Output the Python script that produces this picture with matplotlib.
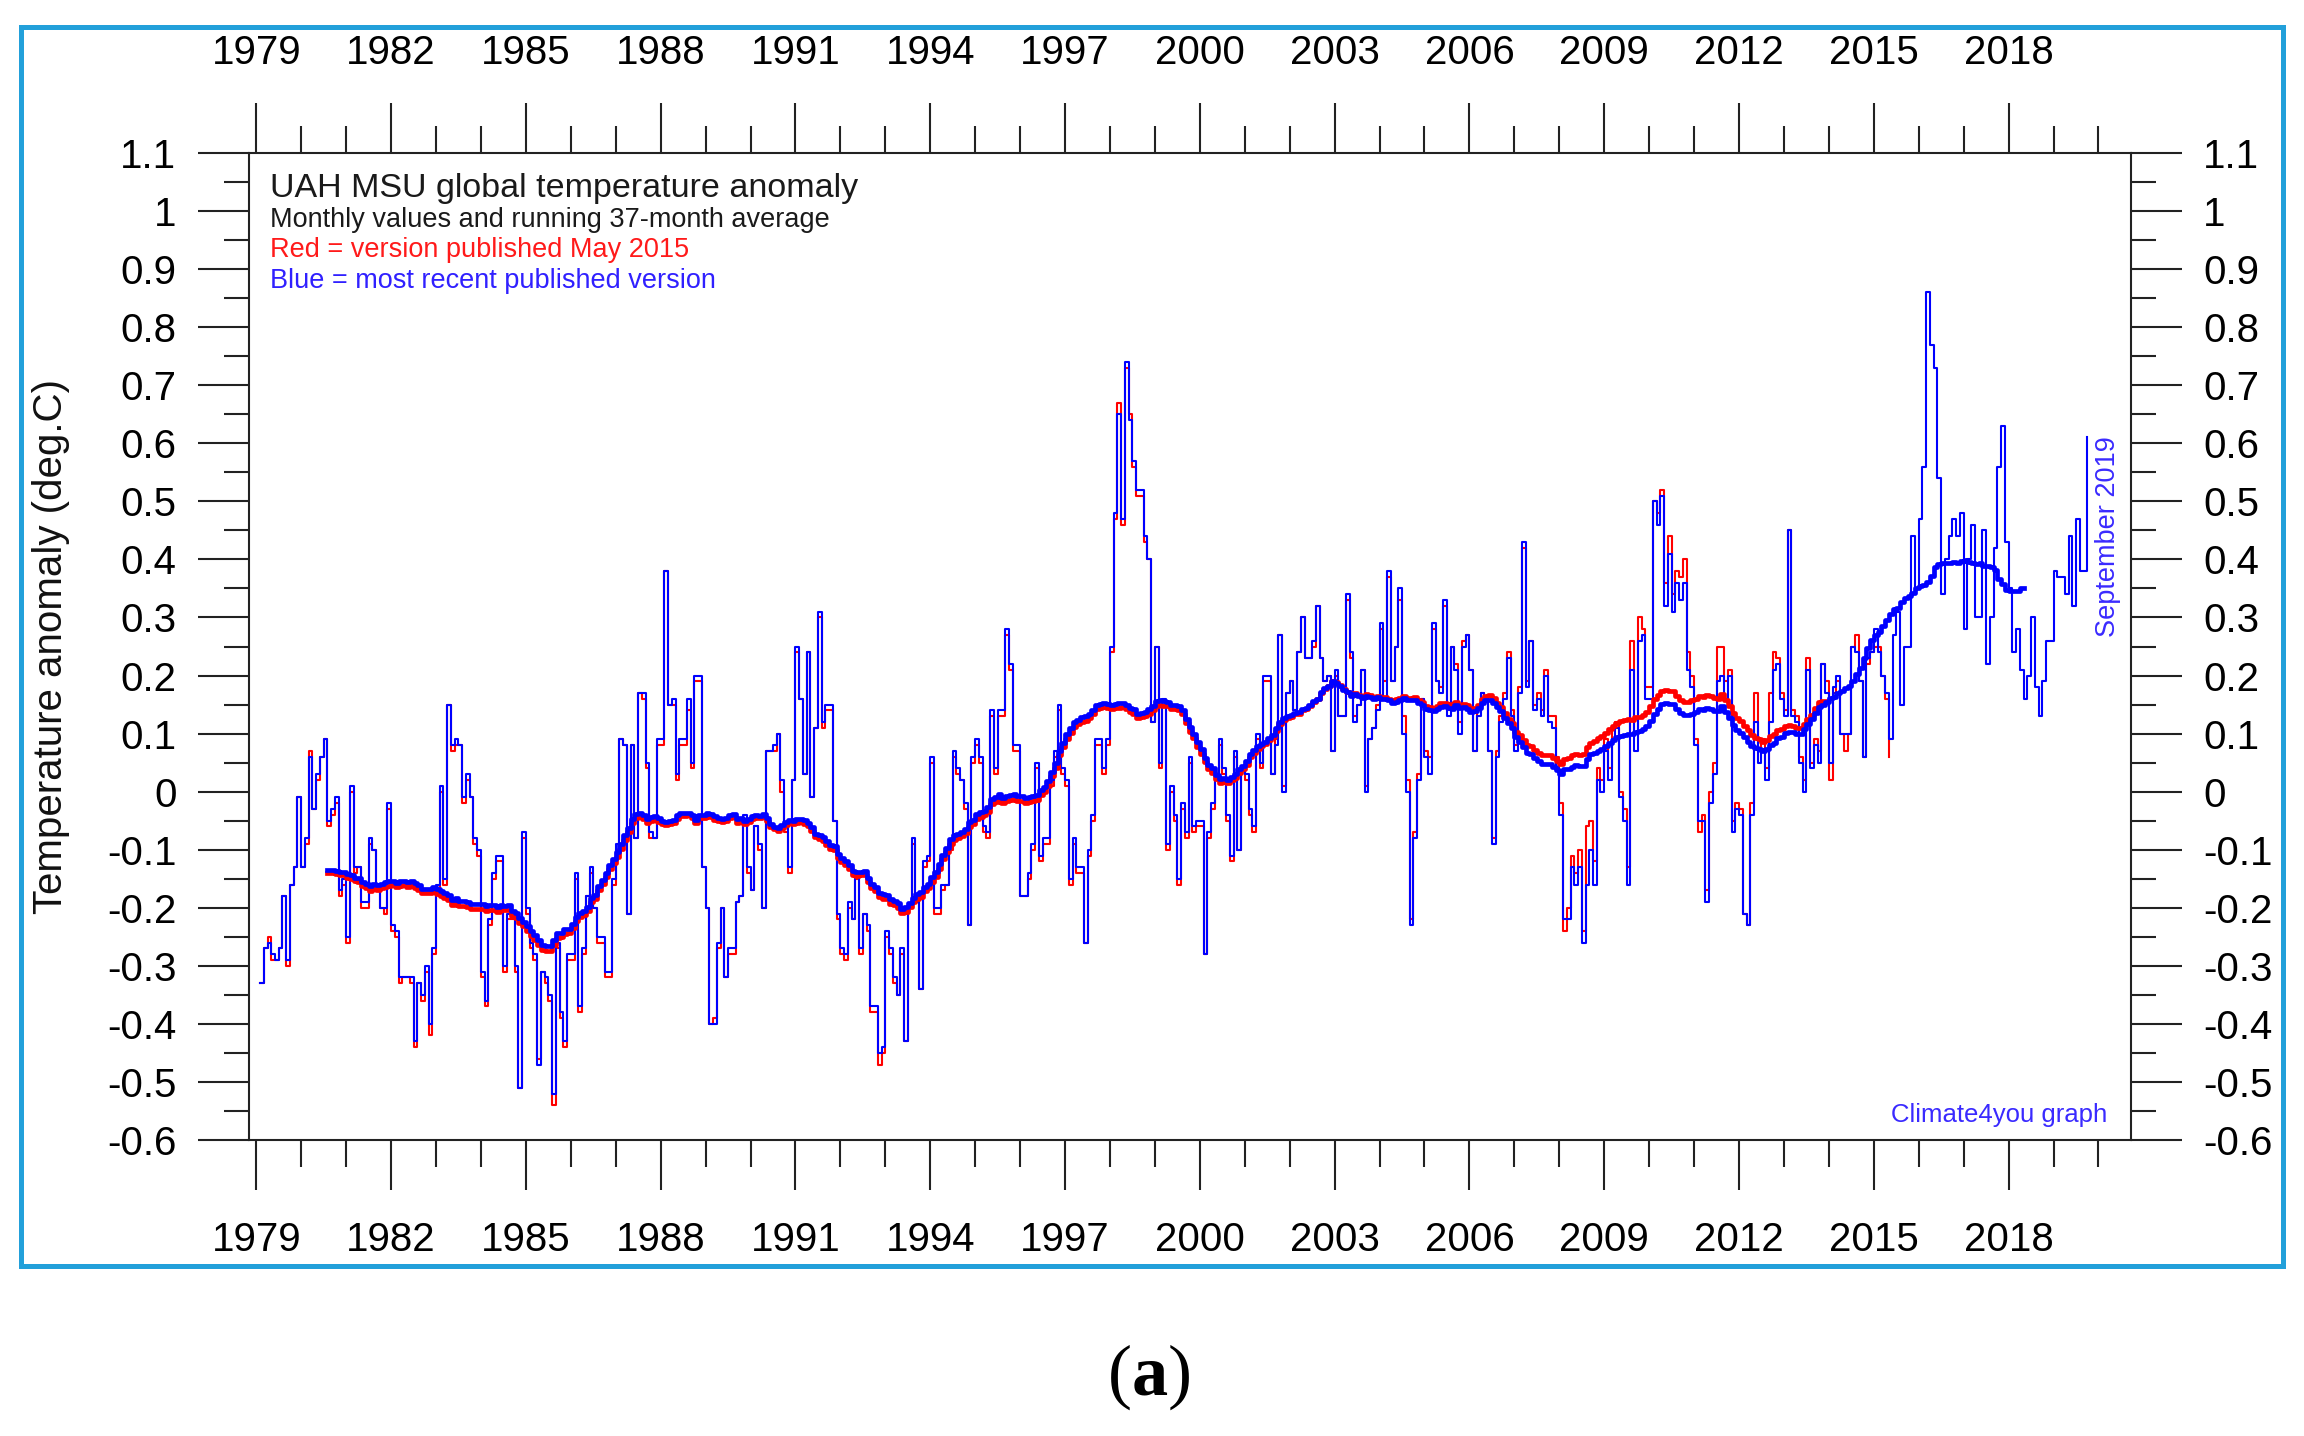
import numpy as np
import pandas as pd
import matplotlib
matplotlib.use('Agg')
import matplotlib.pyplot as plt
from matplotlib.ticker import FixedLocator, FixedFormatter
from matplotlib.patches import Rectangle

plt.rcParams['font.family'] = ['Liberation Sans', 'DejaVu Sans']
plt.rcParams['mathtext.fontset'] = 'custom'
plt.rcParams['mathtext.rm'] = 'Liberation Serif'
plt.rcParams['mathtext.bf'] = 'Liberation Serif:bold'

# monthly anomalies, most recent version, Jan 1979 - Sep 2019
blue_monthly = [
    -0.33, -0.27, -0.26, -0.28, -0.29, -0.27, -0.18, -0.29, -0.16, -0.13, -0.01, -0.13,  # 1979
    -0.08, 0.06, -0.03, 0.03, 0.06, 0.09, -0.05, -0.03, -0.01, -0.17, -0.15, -0.25,  # 1980
    0.01, -0.13, -0.13, -0.19, -0.19, -0.08, -0.10, -0.16, -0.20, -0.20, -0.02, -0.23,  # 1981
    -0.24, -0.32, -0.32, -0.32, -0.32, -0.43, -0.33, -0.35, -0.30, -0.40, -0.27, -0.16,  # 1982
    0.01, -0.15, 0.15, 0.08, 0.09, 0.08, -0.01, 0.03, -0.01, -0.08, -0.10, -0.31,  # 1983
    -0.36, -0.22, -0.14, -0.11, -0.11, -0.30, -0.21, -0.21, -0.30, -0.51, -0.07, -0.20,  # 1984
    -0.26, -0.28, -0.47, -0.31, -0.32, -0.35, -0.52, -0.26, -0.38, -0.43, -0.28, -0.28,  # 1985
    -0.14, -0.37, -0.27, -0.18, -0.13, -0.20, -0.25, -0.25, -0.31, -0.31, -0.15, -0.09,  # 1986
    0.09, 0.08, -0.21, 0.08, -0.08, 0.17, 0.17, 0.05, -0.07, -0.08, 0.09, 0.09,  # 1987
    0.38, 0.15, 0.16, 0.03, 0.09, 0.09, 0.16, 0.05, 0.20, 0.20, -0.13, -0.20,  # 1988
    -0.40, -0.40, -0.26, -0.20, -0.32, -0.27, -0.27, -0.19, -0.18, -0.04, -0.13, -0.17,  # 1989
    -0.06, -0.09, -0.20, 0.07, 0.07, 0.08, 0.10, 0.02, -0.06, -0.13, 0.02, 0.25,  # 1990
    0.16, 0.03, 0.24, -0.01, 0.11, 0.31, 0.12, 0.15, 0.15, -0.05, -0.21, -0.27,  # 1991
    -0.28, -0.19, -0.22, -0.14, -0.27, -0.21, -0.23, -0.37, -0.37, -0.45, -0.44, -0.24,  # 1992
    -0.27, -0.32, -0.35, -0.27, -0.43, -0.20, -0.08, -0.19, -0.34, -0.12, -0.11, 0.06,  # 1993
    -0.20, -0.20, -0.16, -0.16, -0.09, 0.07, 0.04, 0.02, -0.02, -0.23, 0.06, 0.09,  # 1994
    0.06, -0.06, -0.07, 0.14, 0.04, 0.14, 0.14, 0.28, 0.22, 0.08, 0.08, -0.18,  # 1995
    -0.18, -0.14, -0.09, 0.05, -0.11, -0.08, -0.08, 0.02, 0.07, 0.15, 0.04, 0.02,  # 1996
    -0.15, -0.08, -0.13, -0.13, -0.26, -0.10, -0.04, 0.09, 0.09, 0.04, 0.09, 0.25,  # 1997
    0.48, 0.65, 0.47, 0.74, 0.64, 0.57, 0.52, 0.52, 0.44, 0.40, 0.12, 0.25,  # 1998
    0.05, 0.16, -0.09, 0.01, -0.04, -0.15, -0.02, -0.07, 0.06, -0.06, -0.05, -0.05,  # 1999
    -0.28, -0.07, -0.02, 0.03, 0.09, 0.04, -0.04, -0.11, 0.07, -0.10, 0.04, 0.03,  # 2000
    -0.03, -0.06, 0.10, 0.05, 0.20, 0.20, 0.03, 0.08, 0.27, 0.00, 0.17, 0.19,  # 2001
    0.14, 0.24, 0.30, 0.23, 0.23, 0.26, 0.32, 0.23, 0.19, 0.20, 0.07, 0.21,  # 2002
    0.13, 0.13, 0.34, 0.24, 0.12, 0.15, 0.21, 0.00, 0.09, 0.11, 0.14, 0.29,  # 2003
    0.16, 0.38, 0.19, 0.25, 0.35, 0.10, 0.00, -0.23, -0.08, 0.02, 0.16, 0.06,  # 2004
    0.03, 0.29, 0.19, 0.17, 0.33, 0.13, 0.25, 0.21, 0.10, 0.25, 0.27, 0.21,  # 2005
    0.07, 0.13, 0.17, 0.16, 0.07, -0.09, 0.06, 0.12, 0.16, 0.23, 0.13, 0.07,  # 2006
    0.17, 0.43, 0.18, 0.26, 0.14, 0.16, 0.13, 0.20, 0.12, 0.11, 0.04, -0.04,  # 2007
    -0.22, -0.22, -0.13, -0.16, -0.13, -0.26, -0.16, -0.10, -0.16, 0.02, 0.00, 0.07,  # 2008
    0.02, 0.09, 0.11, -0.01, -0.05, -0.16, 0.21, 0.07, 0.26, 0.27, 0.16, 0.16,  # 2009
    0.50, 0.46, 0.51, 0.32, 0.41, 0.31, 0.36, 0.33, 0.36, 0.21, 0.18, 0.08,  # 2010
    -0.05, -0.05, -0.19, -0.02, 0.03, 0.19, 0.20, 0.16, 0.20, -0.07, -0.03, -0.04,  # 2011
    -0.21, -0.23, -0.04, 0.12, 0.05, 0.07, 0.02, 0.12, 0.21, 0.22, 0.16, 0.13,  # 2012
    0.45, 0.13, 0.12, 0.05, 0.00, 0.21, 0.04, 0.08, 0.05, 0.22, 0.17, 0.05,  # 2013
    0.18, 0.20, 0.10, 0.10, 0.10, 0.25, 0.24, 0.19, 0.06, 0.23, 0.24, 0.28,  # 2014
    0.24, 0.20, 0.17, 0.09, 0.27, 0.31, 0.15, 0.25, 0.25, 0.44, 0.35, 0.47,  # 2015
    0.56, 0.86, 0.77, 0.73, 0.54, 0.34, 0.40, 0.44, 0.47, 0.44, 0.48, 0.28,  # 2016
    0.40, 0.46, 0.30, 0.30, 0.45, 0.22, 0.30, 0.42, 0.56, 0.63, 0.43, 0.35,  # 2017
    0.24, 0.28, 0.21, 0.16, 0.20, 0.30, 0.18, 0.13, 0.19, 0.26, 0.26, 0.38,  # 2018
    0.37, 0.37, 0.34, 0.44, 0.32, 0.47, 0.38, 0.38, 0.61,  # 2019
]

# monthly anomalies, version published May 2015, Jan 1979 - Apr 2015
red_monthly = [
    -0.33, -0.27, -0.25, -0.29, -0.29, -0.27, -0.18, -0.30, -0.16, -0.13, -0.01, -0.13,  # 1979
    -0.09, 0.07, -0.03, 0.02, 0.06, 0.09, -0.06, -0.04, -0.02, -0.18, -0.16, -0.26,  # 1980
    0.00, -0.14, -0.13, -0.20, -0.20, -0.09, -0.10, -0.17, -0.20, -0.21, -0.03, -0.24,  # 1981
    -0.25, -0.33, -0.32, -0.32, -0.33, -0.44, -0.33, -0.36, -0.31, -0.42, -0.28, -0.17,  # 1982
    0.00, -0.16, 0.15, 0.07, 0.08, 0.08, -0.02, 0.02, -0.01, -0.09, -0.11, -0.32,  # 1983
    -0.37, -0.23, -0.15, -0.12, -0.12, -0.31, -0.22, -0.22, -0.31, -0.51, -0.08, -0.21,  # 1984
    -0.27, -0.29, -0.46, -0.31, -0.33, -0.36, -0.54, -0.27, -0.39, -0.44, -0.29, -0.29,  # 1985
    -0.15, -0.38, -0.28, -0.18, -0.14, -0.20, -0.26, -0.26, -0.32, -0.32, -0.16, -0.10,  # 1986
    0.09, 0.08, -0.21, 0.08, -0.08, 0.17, 0.16, 0.04, -0.08, -0.08, 0.08, 0.08,  # 1987
    0.38, 0.15, 0.15, 0.02, 0.08, 0.08, 0.14, 0.04, 0.19, 0.19, -0.13, -0.20,  # 1988
    -0.40, -0.39, -0.27, -0.20, -0.32, -0.28, -0.28, -0.19, -0.18, -0.05, -0.14, -0.17,  # 1989
    -0.06, -0.10, -0.20, 0.07, 0.07, 0.07, 0.10, 0.00, -0.07, -0.14, 0.02, 0.24,  # 1990
    0.16, 0.03, 0.24, -0.01, 0.11, 0.30, 0.11, 0.14, 0.14, -0.05, -0.22, -0.28,  # 1991
    -0.29, -0.20, -0.22, -0.15, -0.28, -0.21, -0.24, -0.38, -0.38, -0.47, -0.45, -0.25,  # 1992
    -0.28, -0.33, -0.35, -0.28, -0.43, -0.20, -0.09, -0.19, -0.34, -0.13, -0.12, 0.05,  # 1993
    -0.21, -0.21, -0.17, -0.16, -0.10, 0.06, 0.03, 0.02, -0.03, -0.23, 0.05, 0.08,  # 1994
    0.05, -0.07, -0.08, 0.13, 0.03, 0.13, 0.13, 0.27, 0.21, 0.07, 0.07, -0.18,  # 1995
    -0.18, -0.15, -0.10, 0.04, -0.12, -0.09, -0.09, 0.01, 0.06, 0.14, 0.03, 0.01,  # 1996
    -0.16, -0.09, -0.14, -0.14, -0.26, -0.11, -0.05, 0.08, 0.08, 0.03, 0.08, 0.24,  # 1997
    0.47, 0.67, 0.46, 0.73, 0.65, 0.56, 0.51, 0.51, 0.43, 0.40, 0.12, 0.25,  # 1998
    0.04, 0.15, -0.10, 0.00, -0.05, -0.16, -0.03, -0.08, 0.05, -0.07, -0.06, -0.06,  # 1999
    -0.28, -0.08, -0.03, 0.02, 0.08, 0.03, -0.05, -0.12, 0.06, -0.10, 0.04, 0.02,  # 2000
    -0.04, -0.07, 0.09, 0.04, 0.19, 0.19, 0.03, 0.09, 0.27, 0.01, 0.17, 0.19,  # 2001
    0.14, 0.24, 0.30, 0.23, 0.23, 0.25, 0.32, 0.23, 0.19, 0.20, 0.07, 0.20,  # 2002
    0.13, 0.13, 0.33, 0.23, 0.13, 0.15, 0.21, 0.01, 0.09, 0.11, 0.15, 0.28,  # 2003
    0.19, 0.37, 0.19, 0.25, 0.33, 0.13, 0.02, -0.22, -0.07, 0.03, 0.16, 0.07,  # 2004
    0.06, 0.28, 0.19, 0.18, 0.32, 0.14, 0.25, 0.22, 0.12, 0.26, 0.27, 0.21,  # 2005
    0.07, 0.14, 0.17, 0.16, 0.07, -0.08, 0.07, 0.13, 0.17, 0.24, 0.14, 0.08,  # 2006
    0.18, 0.42, 0.19, 0.26, 0.15, 0.17, 0.14, 0.21, 0.13, 0.13, 0.06, -0.02,  # 2007
    -0.24, -0.20, -0.11, -0.14, -0.10, -0.24, -0.06, -0.05, -0.12, 0.04, 0.02, 0.09,  # 2008
    0.04, 0.11, 0.12, 0.00, -0.03, -0.13, 0.26, 0.10, 0.30, 0.28, 0.18, 0.18,  # 2009
    0.50, 0.48, 0.52, 0.36, 0.44, 0.34, 0.38, 0.37, 0.40, 0.24, 0.20, 0.09,  # 2010
    -0.07, -0.04, -0.17, 0.00, 0.05, 0.25, 0.25, 0.19, 0.21, -0.05, -0.02, -0.03,  # 2011
    -0.21, -0.23, -0.02, 0.17, 0.07, 0.09, 0.04, 0.17, 0.24, 0.23, 0.17, 0.14,  # 2012
    0.45, 0.14, 0.13, 0.06, 0.02, 0.23, 0.05, 0.09, 0.07, 0.22, 0.19, 0.02,  # 2013
    0.17, 0.19, 0.10, 0.07, 0.10, 0.25, 0.27, 0.19, 0.06, 0.22, 0.24, 0.25,  # 2014
    0.25, 0.20, 0.16, 0.06,  # 2015
]

year_ticks = list(range(1979, 2019, 3))
year_minor = list(range(1979, 2021))
anom_ticks = [-0.6, -0.5, -0.4, -0.3, -0.2, -0.1, 0.0, 0.1, 0.2, 0.3,
              0.4, 0.5, 0.6, 0.7, 0.8, 0.9, 1.0, 1.1]
anom_labels = ['-0.6', '-0.5', '-0.4', '-0.3', '-0.2', '-0.1', '0', '0.1', '0.2', '0.3',
               '0.4', '0.5', '0.6', '0.7', '0.8', '0.9', '1', '1.1']
anom_minor = [-0.55, -0.45, -0.35, -0.25, -0.15, -0.05, 0.05, 0.15, 0.25,
              0.35, 0.45, 0.55, 0.65, 0.75, 0.85, 0.95, 1.05]

W, H = 2304, 1436


def fx(x):
    return x / W


def fy(y):
    return 1 - y / H


def running_mean(values, window=37):
    return pd.Series(values).rolling(window, center=True).mean().to_numpy()


def main():
    fig = plt.figure(figsize=(W / 100, H / 100), dpi=100)
    ax = fig.add_axes([fx(248.6), fy(1140), fx(2131) - fx(248.6), fy(153) - fy(1140)])

    t_blue = 1979 + (np.arange(len(blue_monthly)) + 1) / 12
    t_red = 1979 + (np.arange(len(red_monthly)) + 1) / 12

    ax.plot(t_red, red_monthly, drawstyle='steps-post', color='#ff0000', lw=1.5)
    ax.plot(t_blue, blue_monthly, drawstyle='steps-post', color='#0000ff', lw=1.5)
    ax.plot(t_red, running_mean(red_monthly), drawstyle='steps-post',
            color='#ff0000', lw=3.4)
    ax.plot(t_blue, running_mean(blue_monthly), drawstyle='steps-post',
            color='#0000ff', lw=3.4)

    ax.set_xlim(1978.829, 2020.724)
    ax.set_ylim(-0.6, 1.1)

    ax.xaxis.set_major_locator(FixedLocator(year_ticks))
    ax.xaxis.set_minor_locator(FixedLocator(year_minor))
    ax.xaxis.set_major_formatter(FixedFormatter([str(y) for y in year_ticks]))
    ax.yaxis.set_major_locator(FixedLocator(anom_ticks))
    ax.yaxis.set_minor_locator(FixedLocator(anom_minor))
    ax.yaxis.set_major_formatter(FixedFormatter(anom_labels))

    dark = '#222222'
    for sp in ax.spines.values():
        sp.set_color(dark)
        sp.set_linewidth(1.5)
    ax.tick_params(axis='x', which='both', direction='out', top=True, bottom=True,
                   labeltop=True, labelbottom=True, color=dark, width=1.5,
                   labelsize=29, pad=22)
    ax.tick_params(axis='x', which='major', length=36)
    ax.tick_params(axis='x', which='minor', length=19.5)
    ax.tick_params(axis='y', which='both', direction='out', left=True, right=True,
                   labelleft=True, labelright=True, color=dark, width=1.5,
                   labelsize=29, pad=15)
    ax.tick_params(axis='y', which='major', length=37)
    ax.tick_params(axis='y', which='minor', length=18)

    fig.text(fx(51), fy(646), 'Temperature anomaly (deg.C)', rotation=90,
             ha='center', va='center', fontsize=29, color='#111111')

    fig.text(fx(270), fy(197), 'UAH MSU global temperature anomaly',
             fontsize=24.5, color='#1a1a1a', va='baseline')
    fig.text(fx(270), fy(227), 'Monthly values and running 37-month average',
             fontsize=19.5, color='#1a1a1a', va='baseline')
    fig.text(fx(270), fy(257), 'Red = version published May 2015',
             fontsize=19.5, color='#ff1a1a', va='baseline')
    fig.text(fx(270), fy(288), 'Blue = most recent published version',
             fontsize=19.5, color='#3020ff', va='baseline')

    fig.text(fx(2108), fy(537), 'September 2019', rotation=90,
             ha='center', va='center', fontsize=19.5, color='#3a2aff')
    fig.text(fx(2107), fy(1122), 'Climate4you graph', ha='right', va='baseline',
             fontsize=18.5, color='#3a2aff')

    fig.text(fx(1149), fy(1395), r'($\mathbf{a}$)', ha='center', va='baseline',
             fontsize=52, family='Liberation Serif', color='black')

    frame = Rectangle((fx(21), fy(1266)), fx(2283) - fx(21), fy(27) - fy(1266),
                      transform=fig.transFigure, fill=False,
                      edgecolor='#22a0da', lw=3.6)
    fig.add_artist(frame)

    fig.savefig('out.png', dpi=100)


if __name__ == '__main__':
    main()
